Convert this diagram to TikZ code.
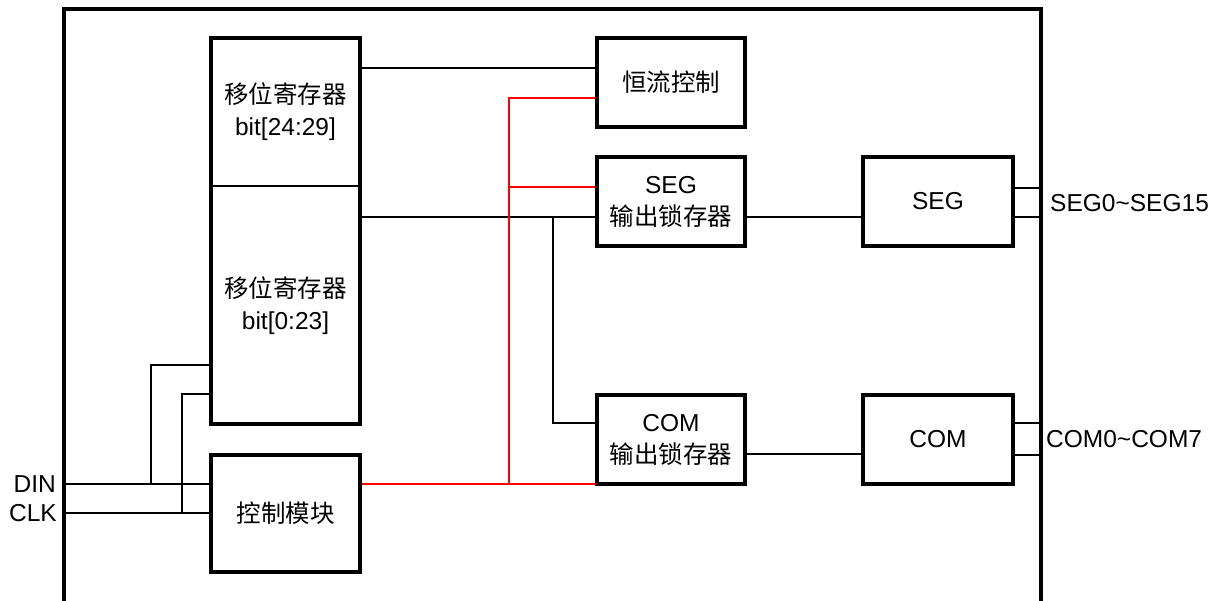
\documentclass[tikz,border=0pt]{standalone}
\usepackage{fontspec}
\setmainfont{Liberation Sans}
\newfontfamily\cjk{Noto Sans CJK SC}
\begin{document}
\begin{tikzpicture}[x=1pt,y=-1pt,
  box/.style={draw, line width=4pt, inner sep=0pt, align=center},
  txt/.style={inner sep=0pt, align=center},
  lbl/.style={inner sep=0pt},
  wire/.style={line width=2pt},
  ctl/.style={line width=2pt, red},
  every node/.append style={font=\fontsize{24.5}{32}\selectfont}]
\useasboundingbox (0,0) rectangle (1223,601);
\fill[white] (0,0) rectangle (1223,601);
% chip frame
\node[draw, line width=4pt, inner sep=0pt, minimum width=977pt, minimum height=594pt] (chip) at (552.5,306) {};
% blocks
\node[box, minimum width=149pt, minimum height=386pt] (sr) at (285.5,231) {};
\node[txt] (sr1) at (285.5,112) {{\cjk 移位寄存器}\\bit[24:29]};
\node[txt] (sr2) at (285.5,306) {{\cjk 移位寄存器}\\bit[0:23]};
\coordinate (divL) at (211,186);
\coordinate (divR) at (360,186);
\draw[wire] (divL) -- (divR);
\node[box, minimum width=149pt, minimum height=117pt] (ctrl) at (285.5,513.5) {\cjk 控制模块};
\node[box, minimum width=148pt, minimum height=89pt] (hl) at (671,82.5) {\cjk 恒流控制};
\node[box, minimum width=148pt, minimum height=89pt] (segl) at (671,201.5) {SEG\\{\cjk 输出锁存器}};
\node[box, minimum width=148pt, minimum height=89pt] (coml) at (671,439.5) {COM\\{\cjk 输出锁存器}};
\node[box, minimum width=150pt, minimum height=89pt] (seg) at (938,201.5) {SEG};
\node[box, minimum width=150pt, minimum height=89pt] (com) at (938,439.5) {COM};
% pins
\coordinate (din) at (64,484);
\coordinate (clk) at (64,513);
\node[lbl, anchor=east] (dinl) at (56,484) {DIN};
\node[lbl, anchor=east] (clkl) at (57,513) {CLK};
\node[lbl, anchor=west] (segp) at (1050,203) {SEG0\textasciitilde SEG15};
\node[lbl, anchor=west] (comp) at (1046,439) {COM0\textasciitilde COM7};
% DIN / CLK wiring
\draw[wire] (din) -- (ctrl.west |- din);
\draw[wire] (din -| 151,0) -- (151,365) -- (sr.west |- 0,365);
\draw[wire] (clk) -- (ctrl.west |- clk);
\draw[wire] (clk -| 182,0) -- (182,394) -- (sr.west |- 0,394);
% shift register outputs
\draw[wire] (sr.east |- 0,68) -- (hl.west |- 0,68);
\draw[wire] (sr.east |- 0,217) -- (segl.west |- 0,217);
\draw[wire] (553,217) -- (553,423) -- (coml.west |- 0,423);
% control (red)
\draw[ctl] (ctrl.east |- 0,484) -- (coml.west |- 0,484);
\draw[ctl] (509,484) -- (509,98) -- (hl.west |- 0,98);
\draw[ctl] (509,187) -- (segl.west |- 0,187);
% latches to drivers
\draw[wire] (segl.east |- 0,217) -- (seg.west |- 0,217);
\draw[wire] (coml.east |- 0,454) -- (com.west |- 0,454);
% drivers to pins
\draw[wire] (seg.east |- 0,188) -- (chip.east |- 0,188);
\draw[wire] (seg.east |- 0,217) -- (chip.east |- 0,217);
\draw[wire] (com.east |- 0,423) -- (chip.east |- 0,423);
\draw[wire] (com.east |- 0,455) -- (chip.east |- 0,455);
\end{tikzpicture}
\end{document}
